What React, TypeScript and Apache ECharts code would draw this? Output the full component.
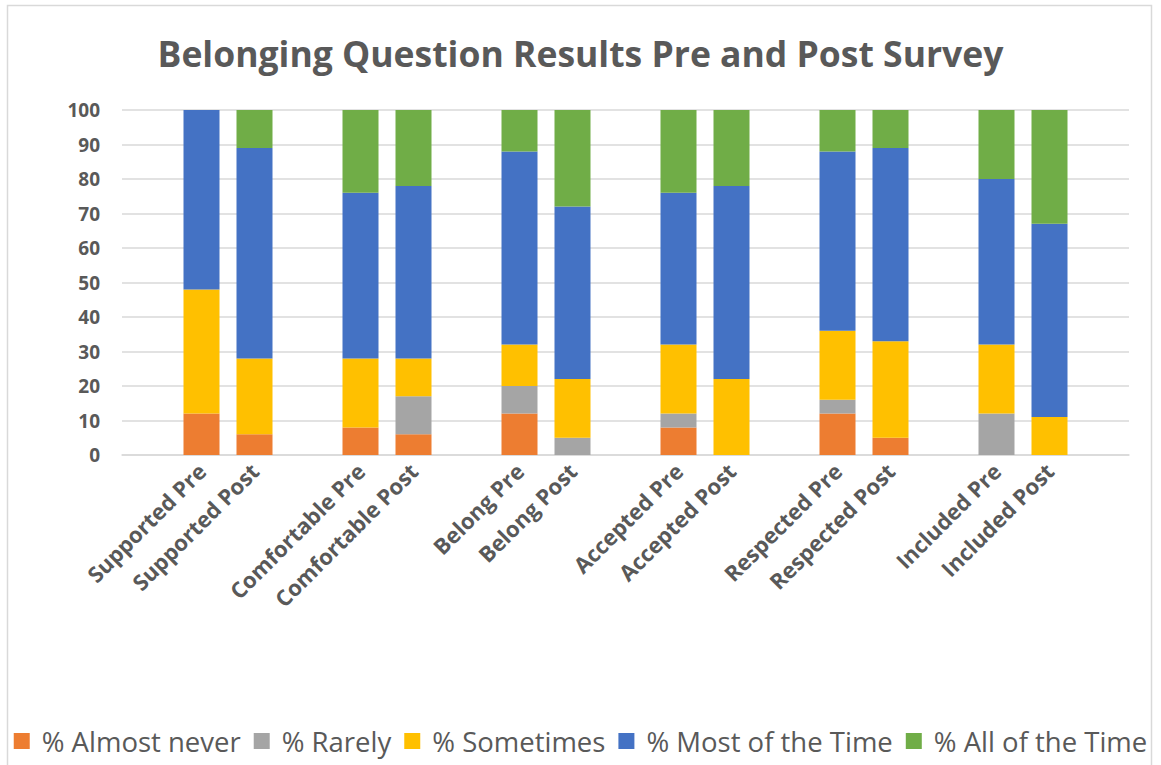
import React, { useEffect, useRef } from "react";
import * as echarts from "echarts";

// Categories, with blank slots separating each Pre/Post pair
const categories = [
  "",
  "Supported Pre", "Supported Post", "",
  "Comfortable Pre", "Comfortable Post", "",
  "Belong Pre", "Belong Post", "",
  "Accepted Pre", "Accepted Post", "",
  "Respected Pre", "Respected Post", "",
  "Included Pre", "Included Post", "",
];

// Percent values per response, one entry per category (null for blank slots)
const almostNever = [null, 12, 6, null, 8, 6, null, 12, 0, null, 8, 0, null, 12, 5, null, 0, 0, null];
const rarely = [null, 0, 0, null, 0, 11, null, 8, 5, null, 4, 0, null, 4, 0, null, 12, 0, null];
const sometimes = [null, 36, 22, null, 20, 11, null, 12, 17, null, 20, 22, null, 20, 28, null, 20, 11, null];
const mostOfTime = [null, 52, 61, null, 48, 50, null, 56, 50, null, 44, 56, null, 52, 56, null, 48, 56, null];
const allOfTime = [null, 0, 11, null, 24, 22, null, 12, 28, null, 24, 22, null, 12, 11, null, 20, 33, null];

const seriesNames = ["% Almost never", "% Rarely", "% Sometimes", "% Most of the Time", "% All of the Time"];
const seriesData = [almostNever, rarely, sometimes, mostOfTime, allOfTime];
const colors = ["#ED7D31", "#A5A5A5", "#FFC000", "#4472C4", "#70AD47"];

const FONT = "'Open Sans', 'Noto Sans', sans-serif";
const TEXT = "#595959";

export default function App() {
  const ref = useRef<HTMLDivElement>(null);

  useEffect(() => {
    if (!ref.current) return;
    const chart = echarts.init(ref.current, null, { renderer: "svg" });
    chart.setOption({
      animation: false,
      backgroundColor: "#ffffff",
      color: colors,
      title: {
        text: "Belonging Question Results Pre and Post Survey",
        left: "center",
        top: 30,
        textStyle: { fontFamily: FONT, fontSize: 35.5, fontWeight: "bold", color: TEXT },
      },
      graphic: [
        {
          type: "rect",
          shape: { x: 7.5, y: 5.5, width: 1144, height: 780 },
          style: { fill: "none", stroke: "#D9D9D9", lineWidth: 1.5 },
          silent: true,
        },
      ],
      grid: { left: 122, right: 32, top: 110, bottom: 310 },
      xAxis: {
        type: "category",
        data: categories,
        axisTick: { show: false },
        axisLine: { lineStyle: { color: "#D9D9D9", width: 1.5 } },
        axisLabel: {
          interval: 0,
          rotate: 45,
          margin: 12,
          fontFamily: FONT,
          fontSize: 22,
          fontWeight: "bold",
          color: TEXT,
        },
      },
      yAxis: {
        type: "value",
        min: 0,
        max: 100,
        interval: 10,
        axisLine: { show: false },
        axisTick: { show: false },
        axisLabel: {
          margin: 22,
          fontFamily: FONT,
          fontSize: 19,
          fontWeight: "bold",
          color: TEXT,
        },
        splitLine: { lineStyle: { color: "#D9D9D9", width: 1.5 } },
      },
      legend: {
        left: "center",
        top: 722,
        itemWidth: 16,
        itemHeight: 16,
        itemGap: 13,
        icon: "rect",
        textStyle: { fontFamily: FONT, fontSize: 27.5, color: TEXT, padding: [0, 0, 0, 7] },
        data: seriesNames,
      },
      series: seriesNames.map((name, i) => ({
        name,
        type: "bar",
        stack: "total",
        barWidth: 36,
        data: seriesData[i],
        itemStyle: { color: colors[i] },
      })),
    });
    return () => chart.dispose();
  }, []);

  return (
    <div
      ref={ref}
      style={{ position: "fixed", left: 0, top: 0, width: 1161, height: 765 }}
    />
  );
}
